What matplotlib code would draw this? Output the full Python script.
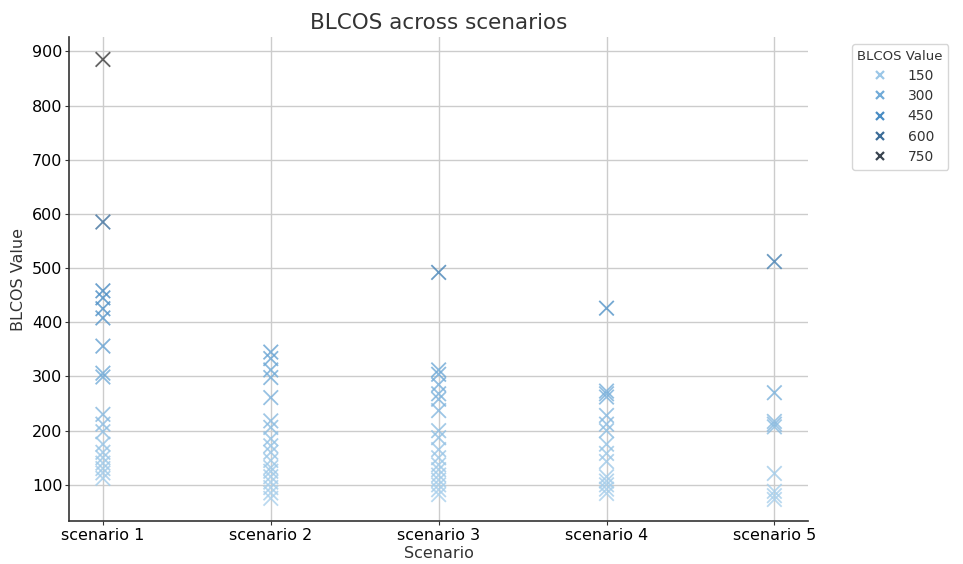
import numpy as np
import matplotlib
matplotlib.use("Agg")
import matplotlib.pyplot as plt
from matplotlib.colors import LinearSegmentedColormap, Normalize
from matplotlib.lines import Line2D

# values, one list per scenario
scenarios = ['scenario 1', 'scenario 2', 'scenario 3', 'scenario 4', 'scenario 5']
s1 = [885, 585, 458, 445, 425, 408, 356, 306, 299, 230, 212, 198, 175, 160, 150, 140, 130, 122, 112]
s2 = [345, 333, 312, 298, 261, 218, 206, 185, 172, 160, 145, 132, 125, 115, 105, 95, 85, 75]
s3 = [492, 312, 304, 285, 268, 258, 237, 200, 187, 165, 150, 137, 128, 118, 109, 100, 91, 82]
s4 = [426, 273, 268, 262, 228, 212, 200, 175, 158, 143, 115, 107, 100, 92, 84]
s5 = [512, 270, 217, 212, 207, 121, 88, 80, 73]
legend_levels = [150, 300, 450, 600, 750]

all_vals = [s1, s2, s3, s4, s5]

# light blue -> steel blue -> dark gray
cmap = LinearSegmentedColormap.from_list(
    'blcos', [(0.0, '#acd2ed'), (0.109, '#9cc7e7'), (0.291, '#72abd8'),
              (0.473, '#4a8dc4'), (0.655, '#3d6d98'), (0.836, '#3a4550'),
              (1.0, '#3c3c3c')])
norm = Normalize(vmin=60, vmax=885)

fig, ax = plt.subplots(figsize=(9.63, 5.64), dpi=100)
fig.subplots_adjust(left=0.072, right=0.839, bottom=0.076, top=0.934)

for i, vals in enumerate(all_vals):
    ax.scatter([i] * len(vals), vals, c=vals, cmap=cmap, norm=norm,
               marker='x', s=110, linewidths=1.3, alpha=0.8, zorder=3)

ax.set_xticks(range(len(scenarios)))
ax.set_xticklabels(scenarios, fontsize=11.5)
ax.set_xlim(-0.2, 4.2)
ax.set_ylim(33, 926)
ax.set_yticks(range(100, 901, 100))
ax.tick_params(axis='y', labelsize=11.5)
ax.tick_params(color='#333333', length=3, pad=2)
ax.grid(True, color='#cccccc', linewidth=1, zorder=0)
ax.set_axisbelow(True)
for sp in ['top', 'right']:
    ax.spines[sp].set_visible(False)
for sp in ['left', 'bottom']:
    ax.spines[sp].set_color('#333333')
    ax.spines[sp].set_linewidth(1.2)

ax.set_title('BLCOS across scenarios', fontsize=15.5, color='#333333')
ax.set_xlabel('Scenario', fontsize=11.5, color='#333333', labelpad=2)
ax.set_ylabel('BLCOS Value', fontsize=11.5, color='#333333', labelpad=4)

handles = [Line2D([], [], marker='x', linestyle='', markersize=6, markeredgewidth=1.6,
                  color=cmap(norm(v))) for v in legend_levels]
leg = ax.legend(handles, [str(v) for v in legend_levels], title='BLCOS Value',
                loc='upper left', bbox_to_anchor=(1.05, 1.0), fontsize=10,
                title_fontsize=9.5, frameon=True, handletextpad=1.0,
                labelspacing=0.45, borderpad=0.4)
leg.get_frame().set_edgecolor('#cccccc')
leg.get_title().set_color('#333333')
for t in leg.get_texts():
    t.set_color('#333333')

plt.savefig('out.png', dpi=100)
